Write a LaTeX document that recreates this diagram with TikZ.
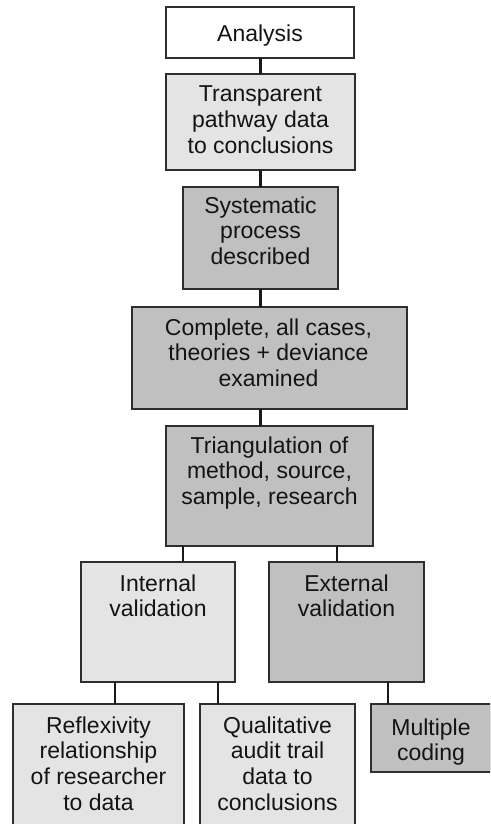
\documentclass[tikz,border=0pt]{standalone}
\usepackage{fontspec}
\setmainfont{Liberation Sans}
\definecolor{lightfill}{HTML}{E4E4E4}
\definecolor{darkfill}{HTML}{C0C0C0}
\definecolor{edge}{HTML}{2E2E2E}
\begin{document}
\begin{tikzpicture}[x=1pt,y=-1pt,
  box/.style={draw=edge, line width=1.6pt, inner sep=0, outer sep=0, rectangle},
  whitebox/.style={box, fill=white},
  lightbox/.style={box, fill=lightfill},
  darkbox/.style={box, fill=darkfill},
  txt/.style={inner sep=0, anchor=base, text=black!92, font=\fontsize{23}{25.7}\selectfont},
  conn/.style={draw=black!90, line width=2.6pt}
]
\useasboundingbox (0,0) rectangle (490,824);
\clip (0,0) rectangle (490,824);
\renewcommand{\arraystretch}{1}
\setlength{\tabcolsep}{0pt}
% named helper coordinates for connector x positions
\coordinate (xmain) at (260.5,0);
\coordinate (xtl) at (183,0);
\coordinate (xtr) at (337,0);
\coordinate (xil) at (115,0);
\coordinate (xir) at (218,0);
\coordinate (xe) at (388,0);
% boxes
\node[whitebox, minimum width=188, minimum height=51] (an) at (260,32.5) {};
\node[lightbox, minimum width=189, minimum height=96] (tp) at (260.5,122) {};
\node[darkbox, minimum width=155, minimum height=102] (sy) at (260.5,238) {};
\node[darkbox, minimum width=275, minimum height=102] (co) at (269.5,358) {};
\node[darkbox, minimum width=207, minimum height=120] (tr) at (269.5,486) {};
\node[lightbox, minimum width=154, minimum height=120] (in) at (158,622) {};
\node[darkbox, minimum width=155, minimum height=120] (ex) at (346.5,622) {};
\node[lightbox, minimum width=171, minimum height=140] (re) at (98.5,774) {};
\node[lightbox, minimum width=155, minimum height=140] (qu) at (277.5,774) {};
\node[darkbox, minimum width=120, minimum height=68] (mu) at (431,738) {};
% connectors
\draw[conn] (an.south -| xmain) -- (tp.north -| xmain);
\draw[conn] (tp.south -| xmain) -- (sy.north -| xmain);
\draw[conn] (sy.south -| xmain) -- (co.north -| xmain);
\draw[conn] (co.south -| xmain) -- (tr.north -| xmain);
\draw[conn] (tr.south -| xtl) -- (in.north -| xtl);
\draw[conn] (tr.south -| xtr) -- (ex.north -| xtr);
\draw[conn] (in.south -| xil) -- (re.north -| xil);
\draw[conn] (in.south -| xir) -- (qu.north -| xir);
\draw[conn] (ex.south -| xe) -- (mu.north -| xe);
% texts
\node[txt] (tan) at (260,42) {\begin{tabular}[t]{c}Analysis\end{tabular}};
\node[txt] (ttp) at (260.5,102) {\begin{tabular}[t]{c}Transparent\\pathway data\\to conclusions\end{tabular}};
\node[txt] (tsy) at (260.5,213) {\begin{tabular}[t]{c}Systematic\\process\\described\end{tabular}};
\node[txt] (tco) at (268.5,335) {\begin{tabular}[t]{c}Complete, all cases,\\theories + deviance\\examined\end{tabular}};
\node[txt] (ttr) at (269.5,453) {\begin{tabular}[t]{c}Triangulation of\\method, source,\\sample, research\end{tabular}};
\node[txt] (tin) at (158,591) {\begin{tabular}[t]{c}Internal\\validation\end{tabular}};
\node[txt] (tex) at (346.5,591) {\begin{tabular}[t]{c}External\\validation\end{tabular}};
\node[txt] (tre) at (98.5,733) {\begin{tabular}[t]{c}Reflexivity\\relationship\\of researcher\\to data\end{tabular}};
\node[txt] (tqu) at (277.5,733) {\begin{tabular}[t]{c}Qualitative\\audit trail\\data to\\conclusions\end{tabular}};
\node[txt] (tmu) at (431,735) {\begin{tabular}[t]{c}Multiple\\coding\end{tabular}};
\end{tikzpicture}
\end{document}
